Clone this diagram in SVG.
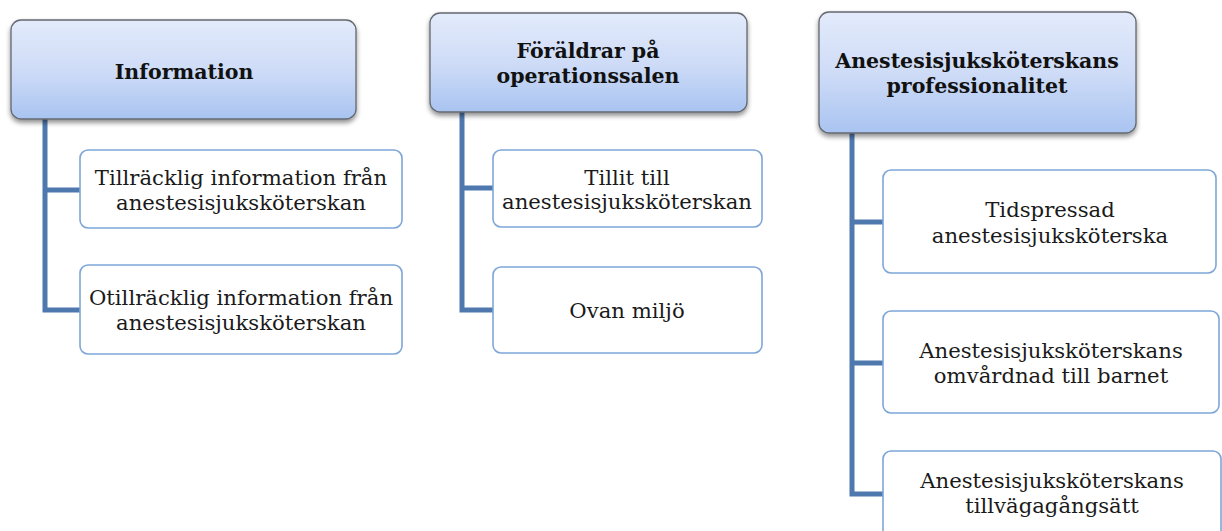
<svg xmlns="http://www.w3.org/2000/svg" width="1222" height="531" viewBox="0 0 1222 531">
<defs>
<linearGradient id="hg" x1="0" y1="0" x2="0" y2="1">
<stop offset="0" stop-color="#e3ebfb"/>
<stop offset="0.5" stop-color="#cfdcf7"/>
<stop offset="1" stop-color="#a9c4f1"/>
</linearGradient>
<filter id="sh" x="-10%" y="-10%" width="120%" height="130%">
<feGaussianBlur in="SourceAlpha" stdDeviation="2.5"/>
<feOffset dx="0" dy="3" result="b"/>
<feComponentTransfer><feFuncA type="linear" slope="0.45"/></feComponentTransfer>
<feMerge><feMergeNode/><feMergeNode in="SourceGraphic"/></feMerge>
</filter>
<style>
.head{fill:url(#hg);stroke:#64686f;stroke-width:1.3;filter:url(#sh)}
.child{fill:#ffffff;stroke:#7ea6d8;stroke-width:1.6}
.conn{fill:none;stroke:#4f79ae;stroke-width:5;stroke-linejoin:miter}
.ht{font-family:"DejaVu Serif","Liberation Serif",serif;font-weight:bold;font-size:20.5px;fill:#111;text-anchor:middle}
.ct{font-family:"DejaVu Serif","Liberation Serif",serif;font-size:21.2px;fill:#1a1a1a;text-anchor:middle}
</style>
</defs>
<rect width="1222" height="531" fill="#ffffff"/>
<g id="connectors">
<path class="conn" d="M45 119 V310 H80 M45 190 H80"/>
<path class="conn" d="M462 112 V310 H493 M462 188 H493"/>
<path class="conn" d="M852 133 V494 H883 M852 222 H883 M852 363 H883"/>
</g>
<g id="n1">
<rect class="head" x="11" y="20" width="345" height="99" rx="10"/>
<text class="ht" x="184" y="79">Information</text>
</g>
<g id="n1a">
<rect class="child" x="80" y="150" width="322" height="78" rx="8"/>
<text class="ct" x="241" y="185">Tillräcklig information från</text>
<text class="ct" x="241" y="210">anestesisjuksköterskan</text>
</g>
<g id="n1b">
<rect class="child" x="80" y="265" width="322" height="89" rx="8"/>
<text class="ct" x="241" y="305">Otillräcklig information från</text>
<text class="ct" x="241" y="330">anestesisjuksköterskan</text>
</g>
<g id="n2">
<rect class="head" x="430" y="13" width="317" height="99" rx="10"/>
<text class="ht" x="588" y="58">Föräldrar på</text>
<text class="ht" x="588" y="83">operationssalen</text>
</g>
<g id="n2a">
<rect class="child" x="493" y="150" width="269" height="77" rx="8"/>
<text class="ct" x="627" y="185">Tillit till</text>
<text class="ct" x="627" y="209">anestesisjuksköterskan</text>
</g>
<g id="n2b">
<rect class="child" x="493" y="267" width="269" height="86" rx="8"/>
<text class="ct" x="627" y="318">Ovan miljö</text>
</g>
<g id="n3">
<rect class="head" x="819" y="12" width="317" height="121" rx="10"/>
<text class="ht" x="977" y="68">Anestesisjuksköterskans</text>
<text class="ht" x="977" y="93">professionalitet</text>
</g>
<g id="n3a">
<rect class="child" x="883" y="170" width="333" height="103" rx="8"/>
<text class="ct" x="1050" y="217">Tidspressad</text>
<text class="ct" x="1050" y="243">anestesisjuksköterska</text>
</g>
<g id="n3b">
<rect class="child" x="883" y="311" width="336" height="102" rx="8"/>
<text class="ct" x="1051" y="358">Anestesisjuksköterskans</text>
<text class="ct" x="1051" y="383">omvårdnad till barnet</text>
</g>
<g id="n3c">
<rect class="child" x="883" y="451" width="338" height="100" rx="8"/>
<text class="ct" x="1052" y="488">Anestesisjuksköterskans</text>
<text class="ct" x="1052" y="513">tillvägagångsätt</text>
</g>
</svg>
